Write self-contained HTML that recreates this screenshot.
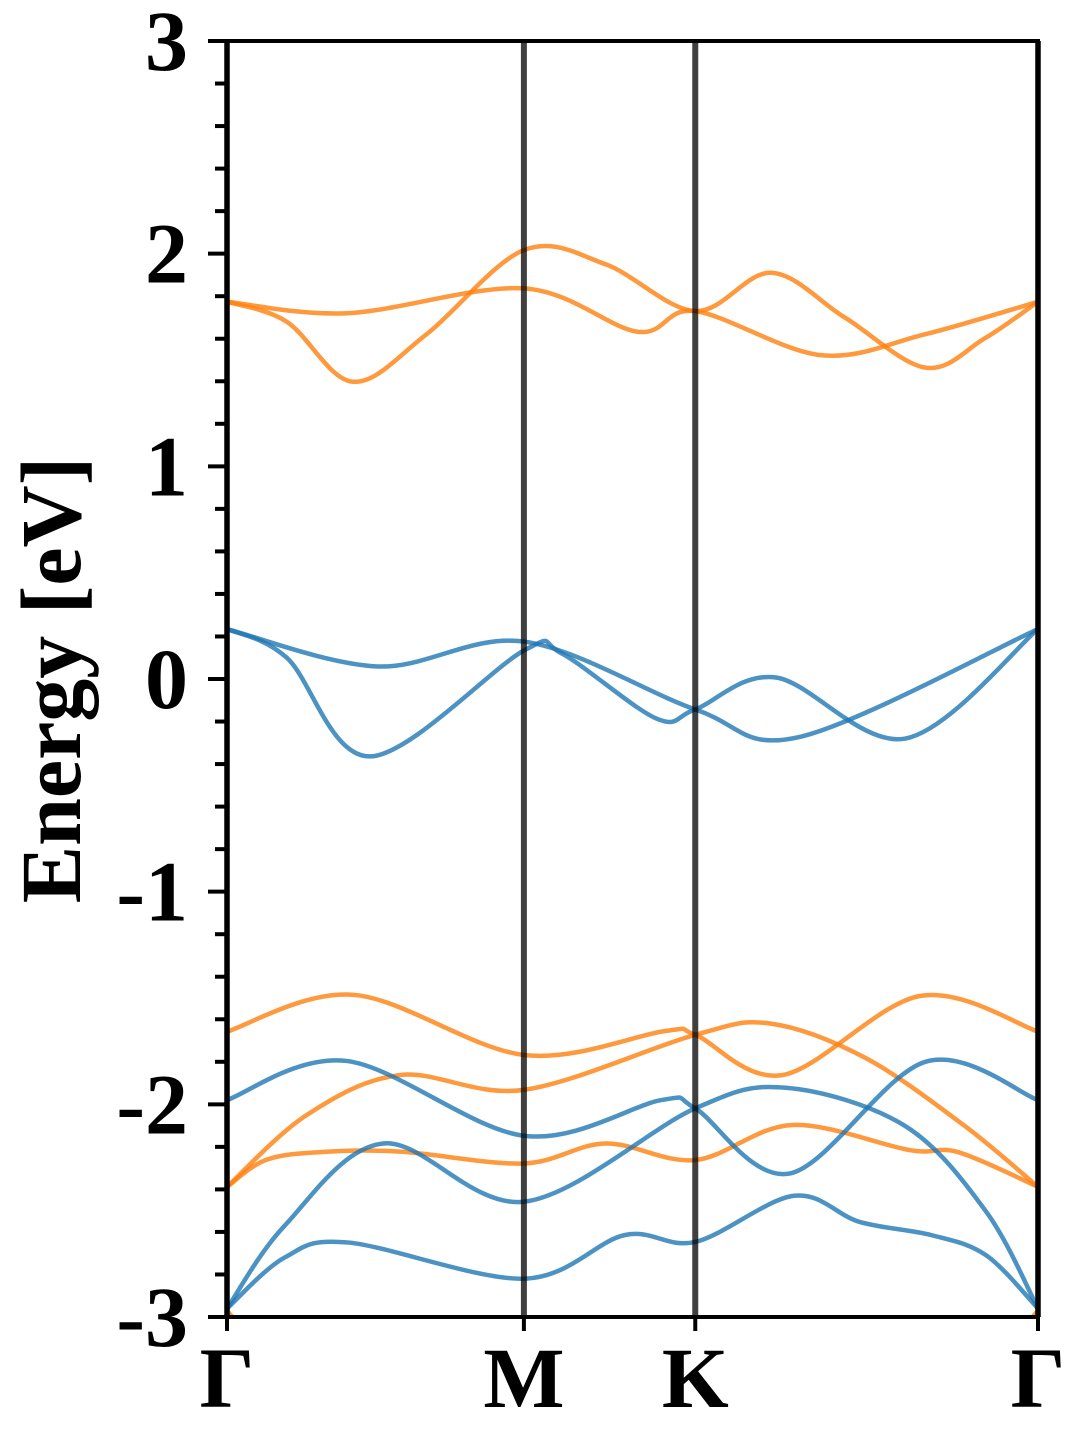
<!DOCTYPE html>
<html><head><meta charset="utf-8"><style>
html,body{margin:0;padding:0;background:#fff;}
svg text{font-family:"Liberation Serif",serif;font-weight:bold;fill:#000;}
</style></head><body>
<svg id="chart" width="1080" height="1440" viewBox="0 0 1080 1440" xmlns="http://www.w3.org/2000/svg">
<defs><clipPath id="plotclip"><rect x="227" y="41" width="811" height="1276"/></clipPath></defs>
<g id="bands" clip-path="url(#plotclip)"></g>
<g id="axes"></g>
<text transform="translate(80,680) rotate(-90)" text-anchor="middle" font-size="86">Energy [eV]</text>
</svg>
<script>
// k-path positions (path distance units) and labels
const kTicks = [0, 298, 470, 814];
const kLabels = ["Γ", "M", "K", "Γ"];
const yTicks = [-3, -2, -1, 0, 1, 2, 3];
const yTickLabels = ["-3", "-2", "-1", "0", "1", "2", "3"];
// orange bands [k, E]
const orange1 = [[0,-1.658],[127,-1.485],[298,-1.768],[440,-1.655],[470,-1.673],[558,-1.862],[696,-1.49],[814,-1.658]];
const orange2 = [[0,-2.388],[80,-2.05],[174,-1.862],[298,-1.932],[470,-1.673],[545,-1.62],[640,-1.78],[740,-2.1],[814,-2.388]];
const orange3 = [[0,-2.388],[40,-2.26],[100,-2.223],[176,-2.223],[298,-2.278],[380,-2.184],[470,-2.262],[567,-2.097],[685,-2.215],[734,-2.225],[814,-2.388]];
const orange4 = [[0,-2.97],[20,-3.08],[40,-3.2]];
const orange5 = [[814,-2.97],[794,-3.08],[774,-3.2]];
const orangeTop1 = [[0,1.774],[60,1.68],[126,1.398],[200,1.62],[298,2.017],[380,1.95],[470,1.73],[546,1.91],[620,1.7],[701,1.464],[760,1.6],[814,1.774]];
const orangeTop2 = [[0,1.774],[121,1.72],[298,1.837],[412,1.633],[470,1.73],[596,1.523],[700,1.62],[814,1.774]];
// blue bands
const blue1 = [[0,-1.98],[120,-1.796],[298,-2.148],[436,-1.98],[470,-2.019],[565,-2.325],[701,-1.80],[814,-1.98]];
const blue2 = [[0,-2.96],[58,-2.57],[157,-2.184],[298,-2.458],[470,-2.019],[561,-1.922],[680,-2.1],[762,-2.505],[814,-2.96]];
const blue3 = [[0,-2.96],[58,-2.72],[122,-2.65],[298,-2.82],[399,-2.615],[470,-2.647],[569,-2.43],[635,-2.553],[707,-2.615],[762,-2.71],[814,-2.96]];
const blueMid1 = [[0,0.235],[151,0.059],[298,0.176],[470,-0.143],[576,-0.271],[814,0.235]];
const blueMid2 = [[0,0.235],[60,0.1],[144,-0.364],[298,0.134],[336,0.12],[431,-0.186],[470,-0.143],[551,0.007],[681,-0.28],[814,0.235]];

const X0=227, X1=1038, Y0=41, Y1=1317;
const KMAX = kTicks[kTicks.length-1];
function xs(k){return X0 + k/KMAX*(X1-X0);}
function ys(e){return Y1 - (e+3)/6*(Y1-Y0);}
const NS="http://www.w3.org/2000/svg";
function pathFor(pts){
  const p = pts.map(d=>[xs(d[0]),ys(d[1])]);
  let s = "M"+p[0][0]+","+p[0][1];
  for(let i=0;i<p.length-1;i++){
    const p0=p[i-1]||p[i], p1=p[i], p2=p[i+1], p3=p[i+2]||p[i+1];
    const t=1/6;
    const c1=[p1[0]+(p2[0]-p0[0])*t, p1[1]+(p2[1]-p0[1])*t];
    const c2=[p2[0]-(p3[0]-p1[0])*t, p2[1]-(p3[1]-p1[1])*t];
    s+=" C"+c1[0]+","+c1[1]+" "+c2[0]+","+c2[1]+" "+p2[0]+","+p2[1];
  }
  return s;
}
const bands=document.getElementById('bands');
function addBand(pts,color,name){
  const el=document.createElementNS(NS,'path');
  el.setAttribute('d',pathFor(pts));
  el.setAttribute('fill','none');
  el.setAttribute('stroke',color);
  el.setAttribute('stroke-width','4.5');
  el.setAttribute('stroke-opacity','0.8');
  
  
  bands.appendChild(el);
}
const OR="#ff7f0e", BL="#1f77b4";
[[orange1,'orange-band-1'],[orange2,'orange-band-2'],[orange3,'orange-band-3'],[orange4,'orange-band-4'],[orange5,'orange-band-5'],[orangeTop1,'orange-top-band-1'],[orangeTop2,'orange-top-band-2']].forEach(b=>addBand(b[0],OR,b[1]));
[[blue1,'blue-band-1'],[blue2,'blue-band-2'],[blue3,'blue-band-3'],[blueMid1,'blue-mid-band-1'],[blueMid2,'blue-mid-band-2']].forEach(b=>addBand(b[0],BL,b[1]));

const axes=document.getElementById('axes');
function line(x1,y1,x2,y2,c,w,name,op){
  const el=document.createElementNS(NS,'line');
  el.setAttribute('x1',x1);el.setAttribute('y1',y1);el.setAttribute('x2',x2);el.setAttribute('y2',y2);
  el.setAttribute('stroke',c);el.setAttribute('stroke-width',w);
  if(op) el.setAttribute('stroke-opacity',op);
  
  
  axes.appendChild(el);
}
function text(x,y,s,size,anchor,name){
  const el=document.createElementNS(NS,'text');
  el.setAttribute('x',x);el.setAttribute('y',y);el.setAttribute('font-size',size);el.setAttribute('text-anchor',anchor);
  el.textContent=s;
  
  
  axes.appendChild(el);
}
// high-symmetry vertical lines
kTicks.forEach(k=>line(xs(k),Y0,xs(k),Y1,'#000','6','high-symmetry-line','0.75'));
// frame
line(X0,Y0,X1,Y0,'#000','4','frame-top');
line(X0,Y1,X1,Y1,'#000','4','frame-bottom');
line(X0,Y0-2,X0,Y1+2,'#000','4','frame-left');
line(X1,Y0-2,X1,Y1+2,'#000','4','frame-right');
// y ticks
for(let v=-3; v<=3.0001; v+=0.2){
  const major=Math.abs(v-Math.round(v))<1e-6;
  line(major?X0-19:X0-12,ys(v),X0,ys(v),'#000','4',major?'y-major-tick':'y-minor-tick');
}
yTicks.forEach((v,i)=>text(188,ys(v)+29,yTickLabels[i],86,'end','y-tick-label'));
kTicks.forEach((k,i)=>{
  line(xs(k),Y1,xs(k),Y1+14,'#000','4','x-tick');
  text(xs(k),Y1+90,kLabels[i],86,'middle','x-tick-label');
});
</script>
</body></html>
